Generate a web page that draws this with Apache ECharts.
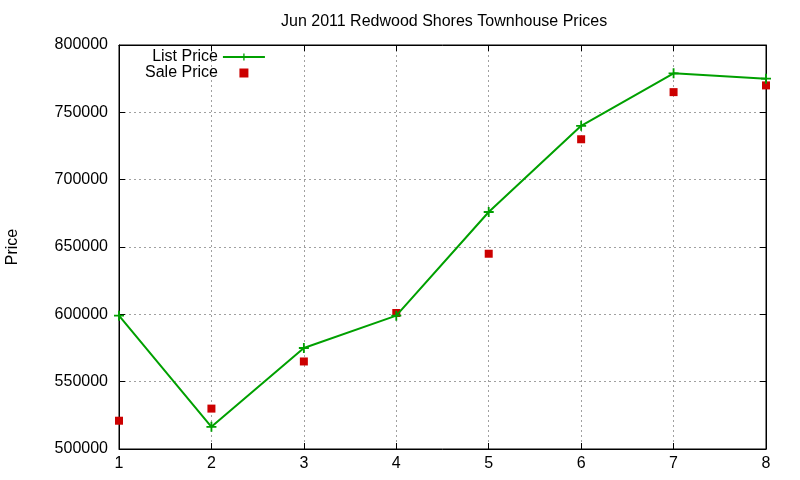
<!DOCTYPE html>
<html>
<head>
<meta charset="utf-8">
<script src="https://cdn.jsdelivr.net/npm/echarts@6/dist/echarts.min.js"></script>
<style>html,body{margin:0;padding:0;background:#fff}#c{width:800px;height:480px}</style>
</head>
<body>
<div id="c"></div>
<script>
var categories = [1, 2, 3, 4, 5, 6, 7, 8];
var listPrice = [599000, 516500, 575000, 599000, 676000, 740000, 779000, 775000];
var salePrice = [521000, 530000, 565000, 601000, 645000, 730000, 765000, 770000];
var titleText = 'Jun 2011 Redwood Shores Townhouse Prices';

var FONT = 'Liberation Sans, Arial, sans-serif';
var chart = echarts.init(document.getElementById('c'), null, {renderer: 'canvas'});
var cross = 'path://M4.1,0H5.9V4.1H10V5.9H5.9V10H4.1V5.9H0V4.1H4.1Z';
var square = 'path://M0,0H10V10H0Z';
function pairs(vals) { return categories.map(function (c, i) { return [c, vals[i]]; }); }

chart.setOption({
  animation: false,
  backgroundColor: '#fff',
  title: {
    text: titleText, left: 276, top: 9,
    textStyle: {fontFamily: FONT, fontSize: 16, fontWeight: 'normal', color: '#000'}
  },
  legend: {
    orient: 'vertical', align: 'right', left: 140, top: 44,
    itemWidth: 42, itemHeight: 9, itemGap: 0, symbolKeepAspect: true,
    textStyle: {fontFamily: FONT, fontSize: 16, color: '#000', lineHeight: 16},
    data: [{name: 'List Price'}, {name: 'Sale Price', icon: square}]
  },
  grid: {left: 119, right: 34, top: 45, bottom: 31, show: true, borderColor: '#000', borderWidth: 1,
         containLabel: false, outerBoundsMode: 'none'},
  xAxis: [{
    type: 'value', min: 1, max: 8, interval: 1,
    axisLine: {show: true, lineStyle: {color: '#000', width: 1}},
    axisTick: {show: true, inside: true, length: 6, lineStyle: {color: '#000'}},
    axisLabel: {fontFamily: FONT, fontSize: 16, color: '#000', margin: 7},
    splitLine: {show: true, lineStyle: {color: '#a0a0a0', type: [2, 3], width: 1}}
  }, {
    type: 'value', min: 1, max: 8, interval: 1, position: 'top',
    axisLine: {show: true, lineStyle: {color: '#000'}},
    axisTick: {show: true, inside: true, length: 6, lineStyle: {color: '#000'}},
    axisLabel: {show: false}, splitLine: {show: false}
  }],
  yAxis: [{
    type: 'value', min: 500000, max: 800000, interval: 50000,
    name: 'Price', nameLocation: 'middle', nameGap: 98, nameRotate: 90,
    nameTextStyle: {fontFamily: FONT, fontSize: 16, color: '#000'},
    axisLine: {show: true, lineStyle: {color: '#000', width: 1}},
    axisTick: {show: true, inside: true, length: 6, lineStyle: {color: '#000'}},
    axisLabel: {fontFamily: FONT, fontSize: 16, color: '#000', margin: 11,
                formatter: function (v) { return String(v); }},
    splitLine: {show: true, lineStyle: {color: '#a0a0a0', type: [2, 3], width: 1}}
  }, {
    type: 'value', min: 500000, max: 800000, interval: 50000, position: 'right',
    axisLine: {show: true, lineStyle: {color: '#000'}},
    axisTick: {show: true, inside: true, length: 6, lineStyle: {color: '#000'}},
    axisLabel: {show: false}, splitLine: {show: false}
  }],
  series: [{
    name: 'List Price', type: 'line', data: pairs(listPrice),
    symbol: cross, symbolSize: 10, showAllSymbol: true,
    lineStyle: {color: '#00a000', width: 2},
    itemStyle: {color: '#00a000', opacity: 1}
  }, {
    name: 'Sale Price', type: 'scatter', data: pairs(salePrice),
    symbol: square, symbolSize: 8, symbolKeepAspect: true,
    itemStyle: {color: '#cc0000', opacity: 1}
  }]
});
</script>
</body>
</html>
